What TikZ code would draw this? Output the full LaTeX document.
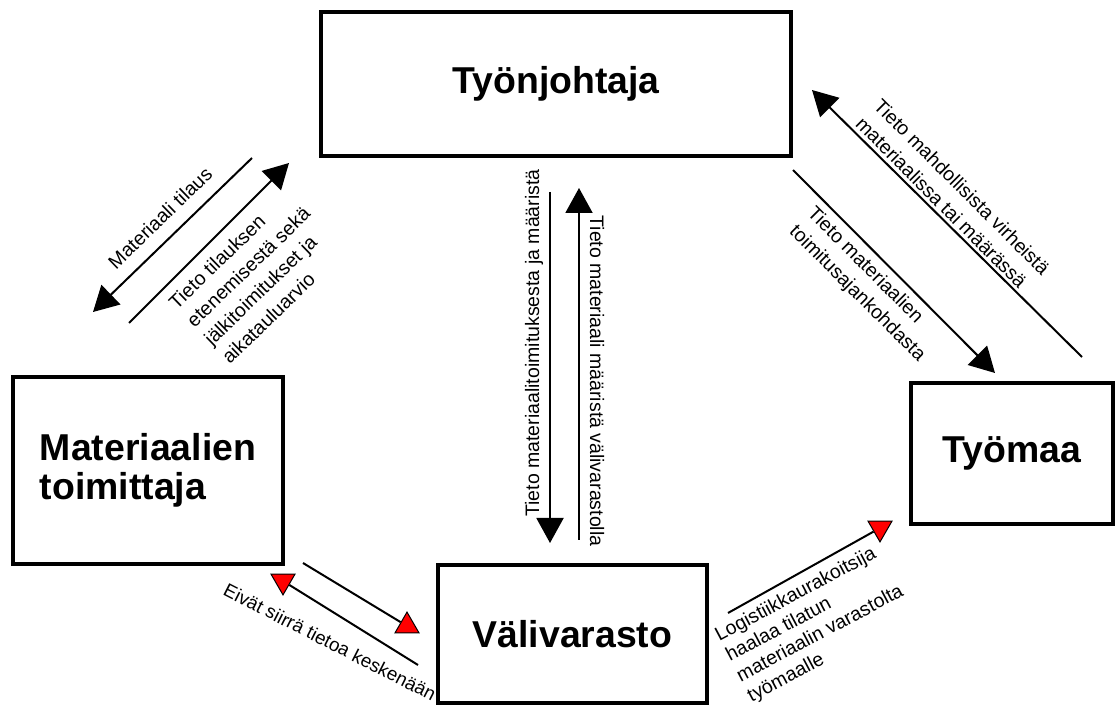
\documentclass[tikz,border=0pt]{standalone}
\usepackage{fontspec}
\setmainfont{Liberation Sans}
\usetikzlibrary{arrows.meta,shapes.geometric}

\tikzset{
	box/.style={draw, line width=1.6pt, inner sep=0pt, align=left,
		font=\fontsize{18.7}{19.5}\selectfont\bfseries},
	lbl/.style={inner sep=0pt, align=left, font=\fontsize{9.75}{12.7}\selectfont},
	tightlbl/.style={lbl, font=\fontsize{9.75}{11.5}\selectfont},
	flow/.style={line width=1pt, -{Triangle[length=12.5pt, width=13.5pt]}},
	redflow/.style={line width=1pt},
	redtip/.style={regular polygon, regular polygon sides=3, draw, fill=red,
		line width=0.5pt, minimum size=13.9pt, inner sep=0pt}
}

\begin{document}
\begin{tikzpicture}[x=0.5pt, y=-0.5pt]
	\useasboundingbox (0,0) rectangle (1115,705);
	\node[box, minimum width=235pt, minimum height=72pt] (J) at (556,84) {Työnjohtaja};
	\node[box, minimum width=135pt, minimum height=93.5pt] (M) at (148,470.5) {Materiaalien\\toimittaja};
	\node[box, minimum width=134.5pt, minimum height=69pt] (V) at (572.5,634) {Välivarasto};
	\node[box, minimum width=101pt, minimum height=70.5pt] (T) at (1012,453.5) {Työmaa};

		\coordinate (M1) at (252,158);
		\coordinate (M2) at (93,312);
		\draw[flow] (M1) -- (M2);
		\node[lbl, rotate=44] (LM1) at (160,218) {Materiaali tilaus};
		\coordinate (M3) at (129,323);
		\coordinate (M4) at (289,163);
		\draw[flow] (M3) -- (M4);
		\node[lbl, rotate=44] (LM2) at (257,276) {Tieto tilauksen\\etenemisestä sekä\\jälkitoimitukset ja\\aikatauluarvio};

		\coordinate (V1) at (550,192);
		\coordinate (V2) at (550,543);
		\draw[flow] (V1) -- (V2);
		\node[lbl, rotate=90] (LV1) at (534,343) {Tieto materiaalitoimituksesta ja määristä};
		\coordinate (V3) at (579,540);
		\coordinate (V4) at (579,188);
		\draw[flow] (V3) -- (V4);
		\node[lbl, rotate=-90] (LV2) at (597,381) {Tieto materiaali määristä välivarastolla};

		\coordinate (T1) at (1082,357);
		\coordinate (T2) at (812,90);
		\draw[flow] (T1) -- (T2);
		\node[lbl, rotate=-45] (LT1) at (953,196) {Tieto mahdollisista virheistä\\materiaalissa tai määrässä};
		\coordinate (T3) at (793,170);
		\coordinate (T4) at (995,373);
		\draw[flow] (T3) -- (T4);
		\node[lbl, rotate=-45] (LT2) at (866,285) {Tieto materiaalien\\toimitusajankohdasta};

		\node[redtip] (RA) at (407,626) {};
		\node[redtip, shape border rotate=180] (RB) at (283,581) {};
		\node[redtip, shape border rotate=180] (RC) at (880,528) {};
		\coordinate (R1) at (303,563);
		\coordinate (R2) at (418,665);
		\coordinate (R3) at (728,613);
		\draw[redflow] (R1) -- (RA);
		\draw[redflow] (R2) -- (RB);
		\draw[redflow] (R3) -- (RC);
		\node[lbl, rotate=-27, font=\fontsize{9.4}{11}\selectfont] (LR1) at (330,642) {Eivät siirrä tietoa keskenään};
		\node[tightlbl, rotate=28] (LR2) at (815,624) {Logistiikkaurakoitsija\\haalaa tilatun\\materiaalin varastolta\\työmaalle};
\end{tikzpicture}
\end{document}
